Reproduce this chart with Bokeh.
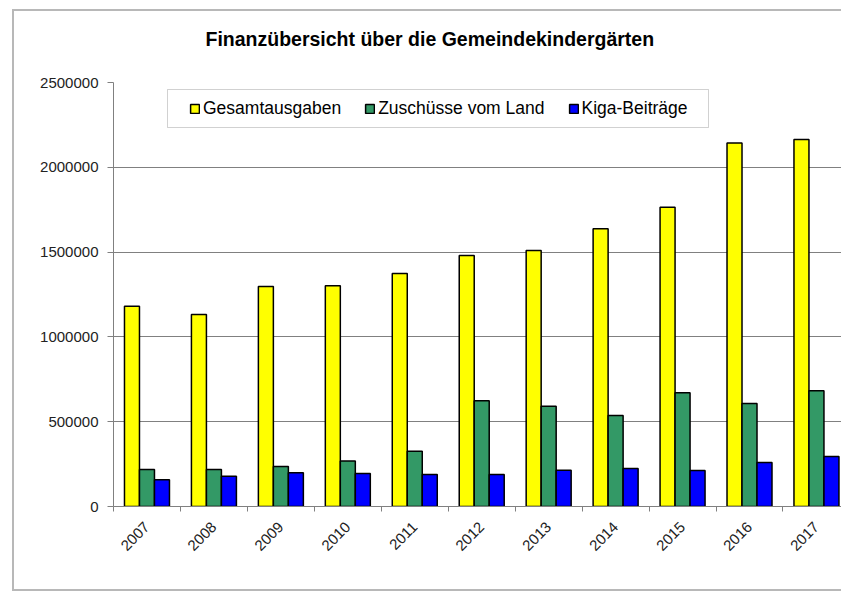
from bokeh.plotting import figure
from bokeh.models import (Range1d, FixedTicker, BasicTickFormatter, Legend, LegendItem,
                          BoxAnnotation, ColumnDataSource, InlineStyleSheet, Title)
from bokeh.transform import dodge
from bokeh.embed import file_html
from bokeh.resources import INLINE
import math

# ---- data ----
years = ["2007", "2008", "2009", "2010", "2011", "2012", "2013", "2014", "2015", "2016", "2017"]
gesamtausgaben = [1180000, 1132000, 1297000, 1301000, 1374000, 1480000, 1509000, 1637000, 1765000, 2144000, 2164000]
zuschuesse = [218000, 218000, 236000, 269000, 326000, 623000, 591000, 537000, 670000, 607000, 682000]
beitraege = [157000, 179000, 199000, 195000, 189000, 189000, 214000, 224000, 212000, 259000, 295000]
series_names = ["Gesamtausgaben", "Zuschüsse vom Land", "Kiga-Beiträge"]
y_ticks = [0, 500000, 1000000, 1500000, 2000000, 2500000]
title_text = "Finanzübersicht über die Gemeindekindergärten"

# ---- styling ----
FONT = "Liberation Sans"
colors = ["#FFFF00", "#339966", "#0000FF"]
GRID = "#808080"

pos = [i + 0.5 for i in range(len(years))]
bounds = [i for i in range(len(years) + 1)]

src = ColumnDataSource(dict(pos=pos, g=gesamtausgaben, z=zuschuesse, k=beitraege))

border_css = InlineStyleSheet(css="""
:host { position: relative; }
:host::after {
  content: "";
  position: absolute;
  left: 12px; top: 9px;
  width: 829px; height: 582px;
  box-sizing: border-box;
  border-left: 2px solid #b8b8b8;
  border-top: 2px solid #b8b8b8;
  border-bottom: 2px solid #b8b8b8;
  border-right: none;
  pointer-events: none;
  z-index: 10;
}
""")

p = figure(width=841, height=593, output_backend="svg", toolbar_location=None,
           x_range=Range1d(0, 10.874), y_range=Range1d(0, 2500000),
           min_border_left=113, min_border_right=0, min_border_top=82, min_border_bottom=87,
           background_fill_color="white", border_fill_color="white",
           stylesheets=[border_css])
p.outline_line_color = None

p.title.text = title_text
p.title.text_font = FONT
p.title.text_font_size = "19.5px"
p.title.text_font_style = "bold"
p.title.text_color = "#000000"
p.title.align = "left"
p.title.offset = 92
p.title.standoff = 10

# blank spacer between the title (outermost) and the plot frame
spacer = Title(text=" ", text_font_size="23px", standoff=0, text_color="white")
p.add_layout(spacer, "above")

width = 0.224
offsets = [-0.224, 0.0, 0.224]
cols = ["g", "z", "k"]
renderers = []
for c, off, col in zip(cols, offsets, colors):
    r = p.vbar(x=dodge("pos", off, range=p.x_range), top=c, width=width, bottom=0,
               source=src, fill_color=col, line_color="#000000", line_width=1.5)
    renderers.append(r)

# grid
p.xgrid.visible = False
p.ygrid.ticker = FixedTicker(ticks=y_ticks)
p.ygrid.grid_line_color = GRID
p.ygrid.grid_line_width = 1

# y axis
ya = p.yaxis[0]
ya.ticker = FixedTicker(ticks=y_ticks)
ya.formatter = BasicTickFormatter(use_scientific=False)
ya.axis_line_color = GRID
ya.major_tick_line_color = GRID
ya.major_tick_out = 6
ya.major_tick_in = 0
ya.minor_tick_line_color = None
ya.major_label_text_font = FONT
ya.major_label_text_font_size = "15px"
ya.major_label_text_color = "#222222"
ya.major_label_standoff = 9

# x axis
xa = p.xaxis[0]
xa.ticker = FixedTicker(ticks=pos, minor_ticks=bounds)
xa.major_label_overrides = {x: y for x, y in zip(pos, years)}
xa.axis_line_color = GRID
xa.major_tick_line_color = None
xa.major_tick_out = 0
xa.major_tick_in = 0
xa.minor_tick_line_color = GRID
xa.minor_tick_out = 5
xa.minor_tick_in = 0
xa.major_label_orientation = math.pi / 4
xa.major_label_text_font = FONT
xa.major_label_text_font_size = "15px"
xa.major_label_text_color = "#222222"
xa.major_label_standoff = 13

# legend box
lbox = BoxAnnotation(left=167, right=708, top=89, bottom=127,
                     left_units="canvas", right_units="canvas",
                     top_units="canvas", bottom_units="canvas",
                     fill_color="white", fill_alpha=1, line_color="#666666", line_width=1)
p.add_layout(lbox)

legend = Legend(items=[LegendItem(label=n, renderers=[r]) for n, r in zip(series_names, renderers)],
                orientation="horizontal", location=(76, 387),
                padding=0, margin=0, spacing=23, label_standoff=3,
                glyph_width=11, glyph_height=11, label_height=20,
                label_text_font=FONT, label_text_font_size="17.5px", label_text_color="#000000",
                border_line_color=None, background_fill_alpha=0)
p.add_layout(legend)

open("out.html", "w").write(file_html(p, INLINE))
